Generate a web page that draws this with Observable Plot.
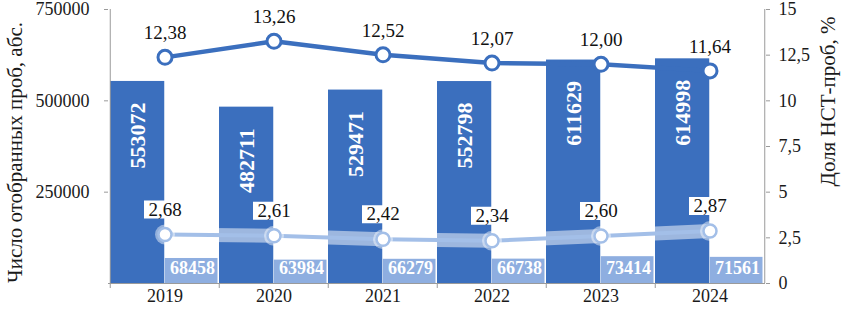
<!DOCTYPE html>
<html><head><meta charset="utf-8">
<script src="https://cdn.jsdelivr.net/npm/d3@7"></script>
<script src="https://cdn.jsdelivr.net/npm/@observablehq/plot@0.6"></script>
<style>html,body{margin:0;padding:0;background:#fff} svg{display:block}</style>
</head><body><div id="chart"></div>
<script>
const years = ["2019", "2020", "2021", "2022", "2023", "2024"];
const totalSamples = [553072, 482711, 529471, 552798, 611629, 614998];
const nstSamples = [68458, 63984, 66279, 66738, 73414, 71561];
const totalShare = [12.38, 13.26, 12.52, 12.07, 12.00, 11.64];
const nstShare = [2.68, 2.61, 2.42, 2.34, 2.60, 2.87];
const leftTicks = [250000, 500000, 750000];
const rightTicks = [0, 2.5, 5, 7.5, 10, 12.5, 15];
const leftTitle = "Число отобранных проб, абс.";
const rightTitle = "Доля НСТ-проб, %";

const W = 843, H = 310, mL = 108, mR = 78, mT = 9, mB = 27;
const bw = (W - mL - mR) / years.length;
const k = 750000 / 15; // right axis (share) mapped onto left axis
const data = years.map((y, i) => ({
  year: y, total: totalSamples[i], nst: nstSamples[i],
  share: totalShare[i], nshare: nstShare[i]
}));
const font = "'Liberation Serif','Times New Roman',serif";
const fmtComma = v => String(v).replace(".", ",");
const fmt2 = v => v.toFixed(2).replace(".", ",");
const boxSymbol = {draw(ctx) { ctx.rect(-21, -9, 42, 18); }};
const blue = "#3b6fbe", light = "#8eaee0", lineLight = "#a3bfe8", axisGray = "#9a9a9a";

const chart = Plot.plot({
  width: W, height: H,
  marginLeft: mL, marginRight: mR, marginTop: mT, marginBottom: mB,
  style: {fontFamily: font, fontSize: "18px", color: "#1a1a1a", background: "#fff"},
  x: {type: "band", domain: years, padding: 0, axis: null, label: null},
  y: {domain: [0, 750000], axis: null, label: null},
  marks: [
    Plot.barY(data, {x: "year", y: "total", fill: blue, insetLeft: 0, insetRight: bw / 2}),
    Plot.barY(data, {x: "year", y: "nst", fill: light, insetLeft: bw / 2, insetRight: 1.5}),
    Plot.text(data, {x: "year", y: "total", text: d => String(d.total), rotate: -90, textAnchor: "end",
      lineAnchor: "middle", dx: -bw / 4, dy: 21, fill: "white", fontWeight: "bold", fontSize: 22}),
    Plot.text(data, {x: "year", y: 0, text: d => String(d.nst), dx: bw / 4, dy: -15,
      fill: "white", fontWeight: "bold", fontSize: 18}),
    // axes
    Plot.ruleY([0], {stroke: axisGray}),
    Plot.ruleX([years[0]], {x: d => d, dx: -bw / 2, stroke: axisGray}),
    Plot.ruleX([years[years.length - 1]], {x: d => d, dx: bw / 2, stroke: axisGray}),
    Plot.axisX({tickSize: 5, tickFormat: () => "", dx: -bw / 2, stroke: axisGray, label: null}),
    Plot.axisX({tickSize: 0, tickPadding: 6, fontSize: 18, fill: "#1a1a1a", label: null}),
    Plot.axisY(leftTicks, {anchor: "left", tickSize: 4, tickPadding: 15, tickFormat: d3.format("d"),
      stroke: axisGray, fill: "#1a1a1a", fontSize: 18, label: null}),
    Plot.axisY(rightTicks.map(v => v * k), {anchor: "right", tickSize: 4, tickPadding: 9,
      tickFormat: d => fmtComma(+(d / k).toFixed(1)), stroke: axisGray, fill: "#1a1a1a", fontSize: 18, label: null}),
    Plot.text([leftTitle], {frameAnchor: "left", textAnchor: "middle", rotate: -90, dx: -93, dy: 6, fontSize: 21, fill: "#1a1a1a"}),
    Plot.text([rightTitle], {frameAnchor: "right", textAnchor: "middle", rotate: -90, dx: 63, dy: -45, fontSize: 21, fill: "#1a1a1a"}),
    // lower share line (glow)
    Plot.line(data, {x: "year", y: d => d.nshare * k, stroke: "white", strokeOpacity: 0.5, strokeWidth: 14}),
    Plot.line(data, {x: "year", y: d => d.nshare * k, stroke: lineLight, strokeWidth: 4}),
    Plot.dot(data, {x: "year", y: d => d.nshare * k, r: 10, fill: "white", fillOpacity: 0.45}),
    Plot.dot(data, {x: "year", y: d => d.nshare * k, r: 6.5, fill: "white", stroke: lineLight, strokeWidth: 2.5}),
    Plot.dot(data, {x: "year", y: d => d.nshare * k, symbol: boxSymbol, r: 5, fill: "white", dy: -25}),
    Plot.text(data, {x: "year", y: d => d.nshare * k, text: d => fmt2(d.nshare), dy: -25, fontSize: 19, fill: "#111"}),
    // upper share line
    Plot.line(data, {x: "year", y: d => d.share * k, stroke: blue, strokeWidth: 4.5}),
    Plot.dot(data, {x: "year", y: d => d.share * k, r: 7, fill: "white", stroke: blue, strokeWidth: 3}),
    Plot.text(data, {x: "year", y: d => d.share * k, text: d => fmt2(d.share), dy: -24, fontSize: 19, fill: "#111"})
  ]
});
document.getElementById("chart").append(chart);
</script>
</body></html>
